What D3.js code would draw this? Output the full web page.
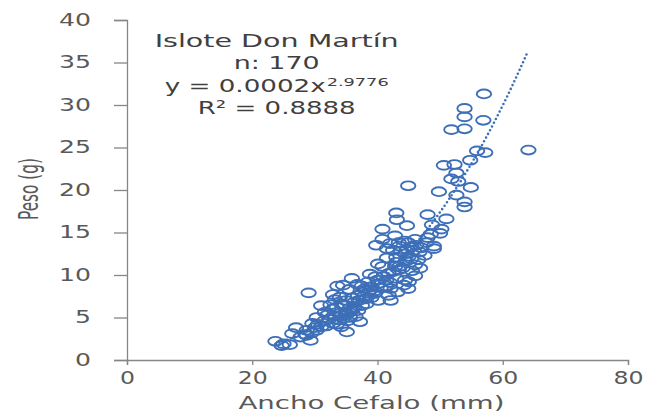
<!DOCTYPE html>
<html>
<head>
<meta charset="utf-8">
<script src="https://cdn.jsdelivr.net/npm/d3@7"></script>
<style>
    body { margin: 0; background: #fff; }
</style>
</head>
<body>
<div id="chart-area"></div>
<script>
// Ancho cefalo (mm)
var anchoCefalo = [
    57.0, 53.9, 53.9, 56.9, 51.8, 53.9, 64.1, 55.9, 57.2, 54.8,
    50.6, 52.3, 52.6, 51.8, 52.9, 54.9, 44.9, 49.8, 52.6, 53.9,
    53.9, 43.0, 48.0, 43.1, 51.0, 48.7, 44.7, 40.8, 50.2, 50.0,
    48.0, 40.8, 43.4, 44.9, 39.8, 49.0, 49.0, 41.5, 45.4, 44.4,
    46.7, 45.4, 43.0, 43.0, 40.1, 46.0, 42.8, 43.4, 41.8, 46.0,
    38.8, 44.4, 41.4, 40.1, 35.9, 44.9, 42.1, 33.6, 37.5, 38.8,
    29.0, 32.9, 36.9, 39.5, 42.1, 38.2, 40.1, 36.3, 37.5, 34.2,
    31.0, 35.6, 32.9, 36.9, 31.6, 34.9, 34.2, 30.3, 35.6, 32.3,
    33.9, 37.2, 29.6, 32.9, 31.0, 27.0, 28.7, 30.3, 35.1, 26.4,
    28.7, 27.7, 29.3, 23.7, 25.0, 26.0, 24.7,
    33.0, 34.0, 34.5, 35.0, 35.5, 36.0, 33.5, 34.8, 35.2, 36.5,
    32.0, 31.5, 32.5, 33.2, 34.0, 35.0, 36.0, 37.0, 37.8, 38.5,
    37.3, 38.0, 39.0, 39.5, 40.5, 36.8, 35.5, 34.5, 38.5, 30.5,
    31.8, 29.5, 28.5, 30.0, 33.5, 34.2,
    41.0, 42.0, 42.5, 43.5, 44.0, 44.5, 45.0, 45.8, 46.2, 47.0,
    47.5, 42.5, 43.8, 41.5, 40.8, 43.0, 44.2, 45.5, 46.5, 44.8,
    43.5, 42.0, 47.8, 48.5, 46.0, 45.0, 40.0, 41.3, 39.7, 46.8,
    42.8, 44.3, 43.2, 41.8, 39.0, 38.2, 36.3
];

// Peso (g)
var peso = [
    31.3, 29.6, 28.6, 28.2, 27.1, 27.2, 24.7, 24.6, 24.4, 23.5,
    22.9, 23.0, 22.0, 21.3, 21.0, 20.3, 20.5, 19.8, 19.4, 18.6,
    18.0, 17.3, 17.1, 16.5, 16.6, 15.9, 15.8, 15.4, 15.4, 14.9,
    14.4, 14.2, 13.8, 13.8, 13.5, 13.4, 13.1, 13.1, 13.3, 12.5,
    12.7, 11.9, 12.1, 11.5, 11.3, 11.2, 11.0, 10.6, 10.2, 9.9,
    10.1, 9.4, 9.4, 9.0, 9.6, 8.4, 8.4, 8.7, 8.7, 8.2,
    7.9, 7.7, 7.6, 7.8, 7.0, 7.2, 7.0, 6.8, 6.4, 6.6,
    6.4, 6.1, 6.0, 5.8, 5.6, 5.6, 5.2, 5.0, 5.0, 4.8,
    4.7, 4.5, 4.3, 4.3, 3.9, 3.8, 3.5, 3.5, 3.3, 3.1,
    2.9, 2.7, 2.3, 2.2, 1.9, 1.8, 1.7,
    5.2, 5.5, 4.9, 5.3, 5.6, 5.9, 6.2, 6.4, 4.6, 5.1,
    5.3, 4.6, 6.5, 7.1, 7.4, 7.0, 7.3, 7.0, 7.5, 7.9,
    8.1, 8.4, 8.6, 8.1, 8.5, 8.9, 8.3, 8.8, 9.2, 4.2,
    4.0, 3.2, 3.0, 3.8, 4.2, 3.9,
    9.8, 9.1, 10.4, 11.0, 10.8, 11.6, 12.2, 12.9, 13.5, 13.2,
    12.3, 12.9, 12.8, 12.0, 11.0, 9.6, 8.8, 10.5, 11.8, 13.0,
    13.4, 13.7, 13.8, 14.8, 14.2, 9.2, 9.4, 8.7, 9.8, 10.8,
    14.6, 14.0, 8.0, 7.6, 7.3, 6.6, 6.2
];

var xTicks = [0, 20, 40, 60, 80];
var yTicks = [0, 5, 10, 15, 20, 25, 30, 35, 40];
var anotaciones = ["Islote Don Martín", "n: 170"];

// power trendline shown on the chart: y = a * x^b
var trendA = 0.000152;
var trendB = 2.9776;

var data = anchoCefalo.map((a, i) => ({ x: a, y: peso[i] }));

var margin = { top: 20, right: 17, bottom: 59, left: 127 };
var width = 645 - margin.left - margin.right;
var height = 419 - margin.top - margin.bottom;

var svg = d3.select("#chart-area")
    .append("svg")
    .attr("width", 645)
    .attr("height", 419)
    .style("background-color", "#fff");

var g = svg.append("g")
    .attr("transform", `translate(${margin.left}, ${margin.top})`);

const x = d3.scaleLinear().domain([0, 80]).range([0, width]);
const y = d3.scaleLinear().domain([0, 40]).range([height, 0]);

var font = "'DejaVu Sans', sans-serif";
var axisColor = "#868686";
var textColor = "#595959";

// the source picture is stretched sideways, so text is widened with textLength
function stretch(sel, perChar) {
    sel.attr("lengthAdjust", "spacingAndGlyphs")
        .attr("textLength", function () { return this.textContent.length * perChar; });
}

// y axis
const yAxis = d3.axisLeft(y).tickValues(yTicks).tickSize(13).tickPadding(23);
var gy = g.append("g").call(yAxis);
gy.select(".domain").attr("stroke", axisColor).attr("stroke-width", 1.3);
gy.selectAll(".tick line").attr("stroke", axisColor).attr("stroke-width", 1.3);
gy.selectAll("text")
    .attr("font-family", font)
    .attr("font-size", "17px")
    .attr("fill", textColor)
    .call(stretch, 16);

// x axis
const xAxis = d3.axisBottom(x).tickValues(xTicks).tickSize(5).tickPadding(7);
var gx = g.append("g")
    .attr("transform", `translate(0, ${height})`)
    .call(xAxis);
gx.select(".domain").attr("stroke", axisColor).attr("stroke-width", 1.3);
gx.selectAll(".tick line").attr("stroke", axisColor).attr("stroke-width", 1.3);
gx.selectAll("text")
    .attr("font-family", font)
    .attr("font-size", "17px")
    .attr("fill", textColor)
    .call(stretch, 15);

// trendline over the data range
var xs = d3.range(d3.min(anchoCefalo), d3.max(anchoCefalo) + 0.01, 0.25);
var trend = xs.map(v => ({ x: v, y: trendA * Math.pow(v, trendB) }));

g.append("path")
    .datum(trend)
    .attr("fill", "none")
    .attr("stroke", "#3d6fb8")
    .attr("stroke-width", 2.6)
    .attr("stroke-linecap", "round")
    .attr("stroke-dasharray", "0,4.2")
    .attr("d", d3.line().x(d => x(d.x)).y(d => y(d.y)));

// points
g.selectAll("ellipse")
    .data(data)
    .enter()
    .append("ellipse")
    .attr("cx", d => x(d.x))
    .attr("cy", d => y(d.y))
    .attr("rx", 7.2)
    .attr("ry", 4.4)
    .attr("fill", "none")
    .attr("stroke", "#3d6fb8")
    .attr("stroke-width", 1.9);

// annotation
var annX = x(23.9);
var annStyle = sel => sel
    .attr("font-family", font)
    .attr("font-size", "18px")
    .attr("fill", "#404040");

g.append("text")
    .attr("x", annX).attr("y", 27)
    .attr("text-anchor", "middle")
    .call(annStyle)
    .text(anotaciones[0])
    .attr("lengthAdjust", "spacingAndGlyphs")
    .attr("textLength", 244);

g.append("text")
    .attr("x", annX).attr("y", 49)
    .attr("text-anchor", "middle")
    .call(annStyle)
    .text(anotaciones[1])
    .attr("lengthAdjust", "spacingAndGlyphs")
    .attr("textLength", 86);

g.append("text")
    .attr("x", annX - 112).attr("y", 72)
    .call(annStyle)
    .text("y = 0.0002x")
    .attr("lengthAdjust", "spacingAndGlyphs")
    .attr("textLength", 161);

g.append("text")
    .attr("x", annX + 50).attr("y", 66)
    .call(annStyle)
    .attr("font-size", "11px")
    .text("2.9776")
    .attr("lengthAdjust", "spacingAndGlyphs")
    .attr("textLength", 62);

g.append("text")
    .attr("x", annX).attr("y", 94)
    .attr("text-anchor", "middle")
    .call(annStyle)
    .text("R² = 0.8888")
    .attr("lengthAdjust", "spacingAndGlyphs")
    .attr("textLength", 158);

// axis titles
g.append("text")
    .attr("x", width / 2 - 6)
    .attr("y", height + 49)
    .attr("text-anchor", "middle")
    .attr("font-family", font)
    .attr("font-size", "18px")
    .attr("fill", textColor)
    .text("Ancho Cefalo (mm)")
    .attr("lengthAdjust", "spacingAndGlyphs")
    .attr("textLength", 266);

g.append("text")
    .attr("transform", "rotate(-90)")
    .attr("x", -169)
    .attr("y", -89)
    .attr("text-anchor", "middle")
    .attr("font-family", "'Liberation Sans Narrow', 'DejaVu Sans Condensed', sans-serif")
    .attr("font-size", "26px")
    .attr("fill", textColor)
    .text("Peso (g)")
    .attr("lengthAdjust", "spacingAndGlyphs")
    .attr("textLength", 62);
</script>
</body>
</html>
